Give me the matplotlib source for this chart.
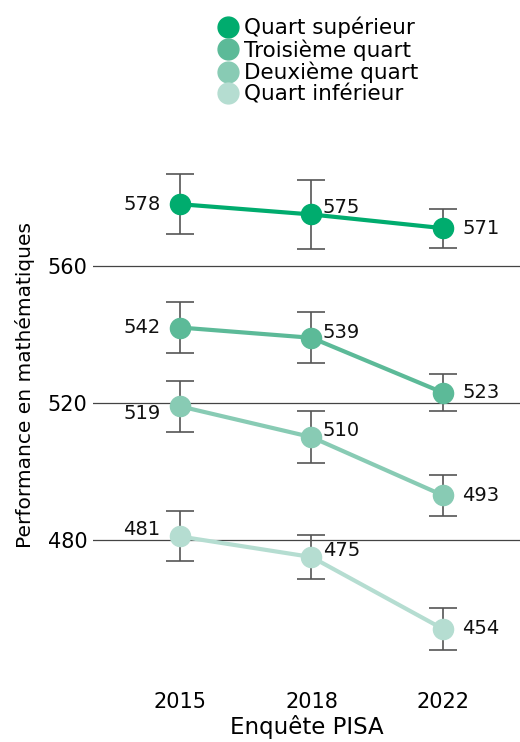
import matplotlib
matplotlib.use("Agg")
import matplotlib.pyplot as plt
from matplotlib.lines import Line2D

years = ["2015", "2018", "2022"]
series = ["Quart supérieur", "Troisième quart", "Deuxième quart", "Quart inférieur"]
colors = ["#00AC6E", "#5CBA98", "#88CBB4", "#B5DDD1"]

top_q = [578, 575, 571]
third_q = [542, 539, 523]
second_q = [519, 510, 493]
bottom_q = [481, 475, 454]

top_err = [8.7, 10.0, 5.7]
third_err = [7.5, 7.5, 5.5]
second_err = [7.5, 7.5, 6.0]
bottom_err = [7.3, 6.4, 6.2]

values = [top_q, third_q, second_q, bottom_q]
errors = [top_err, third_err, second_err, bottom_err]

# label offsets (points) and alignment, per series and year
label_pos = [
    [(-14, 0, "right"), (8, 5, "left"), (14, 0, "left")],
    [(-14, 0, "right"), (8, 4, "left"), (14, 0, "left")],
    [(-14, -5, "right"), (8, 5, "left"), (14, 0, "left")],
    [(-14, 5, "right"), (8, 5, "left"), (14, 0, "left")],
]

fig = plt.figure(figsize=(5.2, 7.42), dpi=100)
ax = fig.add_axes([93 / 520, 62 / 742, 427 / 520, 520 / 742])

x = list(range(len(years)))
for vals, errs, c, offs in zip(values, errors, colors, label_pos):
    ax.errorbar(x, vals, yerr=errs, fmt="none", ecolor="#555555",
                elinewidth=1.2, capsize=10, capthick=1.2, zorder=2)
    ax.plot(x, vals, color=c, lw=3, marker="o", ms=14.5, zorder=3)
    for xi, v, (dx, dy, ha) in zip(x, vals, offs):
        ax.annotate(str(v), (xi, v), xytext=(dx, dy), textcoords="offset points",
                    ha=ha, va="center", fontsize=14, color="#111111")

ax.set_xlim(-0.662, 2.586)
ax.set_ylim(439.1, 590.9)
ax.set_yticks([480, 520, 560])
ax.set_xticks(x)
ax.set_xticklabels(years)
ax.grid(axis="y", color="#444444", lw=0.9)
ax.set_axisbelow(True)
for s in ax.spines.values():
    s.set_visible(False)
ax.tick_params(axis="y", length=0, labelsize=15, pad=4)
ax.tick_params(axis="x", length=0, labelsize=15, pad=9)
ax.set_xlabel("Enquête PISA", fontsize=16.5, labelpad=2)
ax.set_ylabel("Performance en mathématiques", fontsize=14.5)
ax.yaxis.set_label_coords(-0.136, 0.567)

handles = [Line2D([], [], ls="none", marker="o", ms=15, color=c) for c in colors]
fig.legend(handles, series, loc="upper left", bbox_to_anchor=(206 / 520, 1 - 6 / 742),
           frameon=False, fontsize=15.5, handletextpad=0.25, labelspacing=0.05,
           handlelength=1.0, borderpad=0)

fig.savefig("out.png", dpi=100)
